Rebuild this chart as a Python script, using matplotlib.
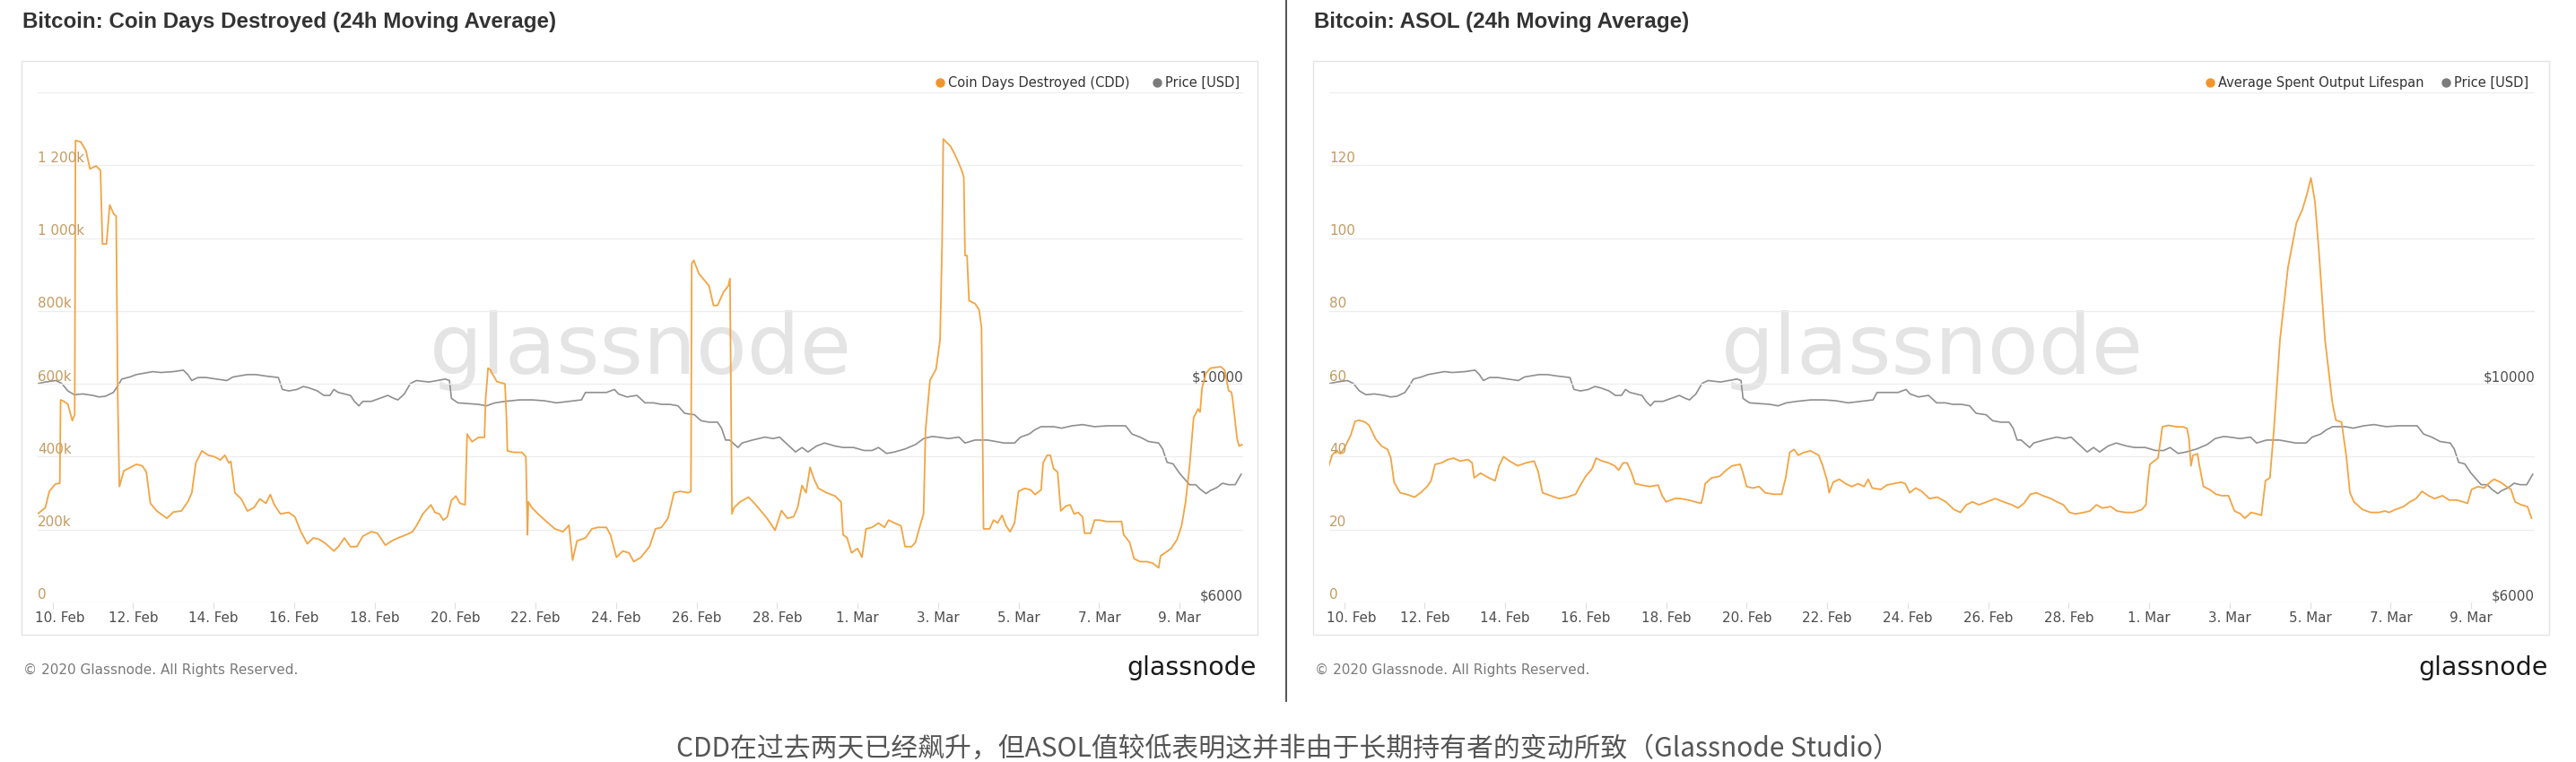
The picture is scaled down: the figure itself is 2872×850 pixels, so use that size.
import matplotlib
matplotlib.use('Agg')
import matplotlib.pyplot as plt
from matplotlib.patches import Rectangle
from matplotlib.lines import Line2D
import numpy as np
import pandas as pd

# ---------------- data ----------------
BASE = pd.Timestamp('2020-02-10')

cdd_days = [-0.36, -0.18, -0.08, 0.07, 0.18, 0.20, 0.28, 0.38, 0.49, 0.55, 0.57, 0.70, 0.83, 0.93, 1.08, 1.19,
            1.24, 1.34, 1.42, 1.52, 1.58, 1.62, 1.66, 1.77, 2.08, 2.23, 2.33, 2.43, 2.59, 2.84, 3.0, 3.2,
            3.36, 3.46, 3.56, 3.71, 3.87, 4.02, 4.17, 4.28, 4.38, 4.43, 4.53, 4.69, 4.84, 5.0, 5.15, 5.30,
            5.41, 5.51, 5.66, 5.87, 6.02, 6.17, 6.33, 6.48, 6.63, 6.79, 6.99, 7.10, 7.25, 7.40, 7.56, 7.71,
            7.92, 8.07, 8.27, 8.43, 8.58, 8.79, 8.94, 9.04, 9.20, 9.40, 9.50, 9.61, 9.71, 9.81, 9.91, 10.02,
            10.12, 10.25, 10.30, 10.42, 10.58, 10.73, 10.76, 10.82, 10.88, 10.93, 11.04, 11.24, 11.28, 11.30,
            11.45, 11.66, 11.76, 11.80, 11.82, 11.91, 12.06, 12.27, 12.48, 12.68, 12.83, 12.92, 13.03, 13.14,
            13.24, 13.40, 13.55, 13.76, 13.86, 14.01, 14.17, 14.32, 14.44, 14.62, 14.83, 14.98, 15.13, 15.29,
            15.44, 15.59, 15.80, 15.86, 15.88, 15.93, 16.06, 16.16, 16.31, 16.42, 16.52, 16.67, 16.79, 16.83,
            16.88, 16.93, 17.08, 17.29, 17.44, 17.59, 17.75, 17.95, 18.11, 18.26, 18.41, 18.51, 18.62, 18.72,
            18.82, 18.92, 19.03, 19.23, 19.44, 19.59, 19.64, 19.74, 19.85, 20.0, 20.11, 20.21, 20.36, 20.52,
            20.67, 20.77, 20.92, 21.08, 21.18, 21.34, 21.44, 21.54, 21.64, 21.69, 21.80, 21.95, 22.05, 22.10,
            22.13, 22.20, 22.31, 22.41, 22.51, 22.60, 22.64, 22.67, 22.72, 22.77, 22.92, 23.02, 23.08, 23.13,
            23.28, 23.38, 23.48, 23.59, 23.69, 23.79, 23.90, 24.00, 24.15, 24.30, 24.41, 24.56, 24.61, 24.71,
            24.79, 24.87, 24.97, 25.05, 25.17, 25.28, 25.38, 25.48, 25.59, 25.64, 25.79, 25.89, 26.0, 26.20,
            26.35, 26.56, 26.61, 26.76, 26.87, 27.02, 27.18, 27.33, 27.48, 27.53, 27.64, 27.79, 27.94, 28.05,
            28.15, 28.25, 28.35, 28.46, 28.51, 28.56, 28.66, 28.77, 29.02, 29.12, 29.22, 29.29, 29.32, 29.43,
            29.48, 29.55]
cdd_vals_k = [244, 260, 305, 325, 327, 556, 552, 544, 499, 515, 1268, 1264, 1240, 1190, 1198, 1186,
              984, 984, 1091, 1066, 1060, 560, 318, 361, 379, 375, 358, 272, 251, 231, 248, 251,
              276, 301, 383, 416, 404, 400, 391, 404, 383, 387, 301, 284, 251, 260, 284, 272,
              296, 268, 243, 247, 235, 194, 161, 177, 173, 161, 141, 153, 177, 153, 153, 182,
              194, 190, 157, 169, 177, 186, 194, 210, 243, 268, 247, 243, 226, 235, 280, 292,
              272, 268, 462, 441, 453, 453, 560, 643, 638, 627, 606, 600, 500, 416,
              412, 412, 400, 186, 276, 260, 243, 222, 202, 194, 212, 116, 169, 173,
              177, 202, 206, 206, 186, 124, 141, 136, 112, 124, 153, 202, 206, 231,
              301, 305, 301, 305, 930, 939, 902, 889, 869, 815, 815, 852, 869, 889,
              243, 260, 276, 289, 272, 252, 231, 198, 252, 231, 235, 260, 321, 301,
              371, 338, 313, 301, 292, 276, 186, 177, 136, 148, 124, 202, 206, 218,
              206, 226, 218, 210, 153, 153, 165, 206, 243, 474, 610, 640, 721, 985,
              1272, 1264, 1252, 1231, 1207, 1182, 1166, 952, 952, 828, 820, 803, 754, 202,
              202, 226, 218, 239, 210, 194, 218, 305, 313, 309, 296, 309, 383, 404,
              404, 367, 358, 251, 264, 268, 243, 247, 235, 190, 190, 226, 226, 222,
              222, 222, 186, 165, 120, 112, 112, 108, 95, 128, 136, 148, 173, 210,
              276, 375, 507, 531, 523, 589, 630, 643, 647, 638, 581, 577, 556, 449,
              429, 433]

asol_days = [-0.38, -0.30, -0.20, -0.09, 0.01, 0.16, 0.27, 0.37, 0.52, 0.62, 0.78, 0.93, 1.08, 1.16, 1.24, 1.39,
             1.54, 1.75, 1.90, 2.06, 2.16, 2.26, 2.42, 2.57, 2.72, 2.88, 3.08, 3.18, 3.23, 3.39, 3.59, 3.75,
             3.85, 3.96, 4.11, 4.31, 4.52, 4.72, 4.82, 4.93, 5.13, 5.34, 5.54, 5.75, 5.85, 6.0, 6.16, 6.26,
             6.41, 6.57, 6.72, 6.82, 6.93, 7.03, 7.13, 7.23, 7.39, 7.59, 7.80, 7.90, 8.0, 8.21, 8.36, 8.56,
             8.72, 8.87, 8.92, 8.97, 9.13, 9.33, 9.49, 9.64, 9.84, 9.90, 10.0, 10.15, 10.31, 10.46, 10.66, 10.87,
             10.97, 11.07, 11.18, 11.28, 11.43, 11.59, 11.79, 11.89, 12.0, 12.05, 12.15, 12.30, 12.46, 12.61, 12.77, 12.92,
             13.02, 13.12, 13.33, 13.48, 13.64, 13.84, 13.94, 14.05, 14.20, 14.35, 14.54, 14.74, 14.95, 15.15, 15.31, 15.46,
             15.61, 15.77, 15.97, 16.18, 16.38, 16.59, 16.74, 16.89, 17.05, 17.20, 17.36, 17.56, 17.71, 17.87, 18.02, 18.17,
             18.38, 18.53, 18.69, 18.84, 19.05, 19.20, 19.41, 19.61, 19.82, 19.92, 19.97, 20.02, 20.12, 20.22, 20.33, 20.48,
             20.69, 20.84, 20.94, 20.99, 21.04, 21.09, 21.20, 21.25, 21.35, 21.50, 21.66, 21.81, 21.97, 22.12, 22.27, 22.38,
             22.53, 22.68, 22.79, 22.89, 23.0, 23.10, 23.25, 23.45, 23.66, 23.81, 23.92, 24.02, 24.12, 24.22, 24.37, 24.55,
             24.64, 24.78, 24.90, 24.99, 25.09, 25.30, 25.50, 25.71, 25.86, 25.96, 26.12, 26.32, 26.48, 26.63, 26.78, 26.94,
             27.09, 27.29, 27.45, 27.65, 27.91, 28.01, 28.17, 28.32, 28.47, 28.57, 28.73, 28.88, 28.99, 29.09, 29.24, 29.40,
             29.50]
asol_vals = [37.5, 40.4, 41.6, 40.8, 42.5, 45.8, 49.7, 50.0, 49.5, 48.6, 44.9, 42.9, 42.0, 39.6, 33.0, 30.1,
             29.7, 28.9, 30.1, 31.8, 33.4, 37.9, 38.3, 39.2, 39.6, 38.8, 39.2, 38.3, 34.2, 35.5, 34.2, 33.4,
             37.5, 40.0, 38.8, 37.5, 38.3, 38.8, 35.9, 30.1, 29.3, 28.5, 28.9, 29.7, 31.8, 34.6, 36.7, 39.6,
             38.8, 38.3, 37.5, 36.3, 38.3, 38.3, 35.9, 32.6, 32.2, 31.8, 32.2, 29.3, 27.6, 28.5, 28.5, 28.1,
             27.6, 27.2, 29.3, 32.6, 34.2, 34.6, 36.3, 37.5, 37.9, 35.9, 31.8, 31.4, 31.8, 30.1, 29.7, 29.7,
             34.2, 41.2, 42.0, 40.4, 41.2, 41.6, 40.4, 37.5, 33.4, 30.1, 33.0, 33.8, 32.6, 31.8, 32.6, 31.8,
             33.8, 31.4, 31.0, 32.2, 32.6, 33.0, 32.6, 30.1, 31.4, 30.5, 28.5, 28.9, 27.6, 25.5, 24.7, 26.8,
             27.6, 26.8, 27.6, 28.5, 27.6, 26.8, 25.9, 27.2, 29.7, 30.1, 29.3, 28.5, 27.6, 26.8, 24.7, 24.3,
             24.7, 25.1, 26.8, 25.9, 26.3, 25.1, 24.7, 24.7, 25.5, 26.8, 33.4, 37.9, 38.8, 39.6, 48.2, 48.6,
             48.2, 48.2, 47.8, 44.9, 37.5, 40.4, 40.8, 37.5, 31.8, 31.0, 29.7, 29.3, 29.3, 25.1, 24.3, 23.1,
             24.7, 24.3, 23.9, 33.4, 34.2, 47.4, 72.0, 92.0, 104.2, 107.9, 112.0, 116.5, 110.0, 96.0, 72.0, 55.0,
             50.0, 49.5, 40.0, 30.1, 27.6, 25.5, 24.7, 24.7, 25.1, 24.7, 25.5, 26.3, 27.6, 28.5, 30.5, 29.3,
             28.5, 29.3, 28.1, 28.1, 27.2, 31.0, 31.8, 31.4, 33.0, 33.8, 33.0, 31.8, 31.0, 27.6, 26.8, 26.3,
             23.1]

price_days = [-0.36, -0.18, 0.08, 0.23, 0.38, 0.54, 0.75, 1.0, 1.15, 1.31, 1.51, 1.61, 1.72, 1.92, 2.08, 2.28,
              2.49, 2.69, 3.0, 3.25, 3.36, 3.46, 3.61, 3.82, 4.07, 4.33, 4.48, 4.84, 5.05, 5.30, 5.61, 5.71,
              5.87, 6.07, 6.23, 6.38, 6.58, 6.74, 6.89, 6.99, 7.10, 7.25, 7.40, 7.50, 7.61, 7.71, 7.92, 8.12,
              8.33, 8.48, 8.58, 8.74, 8.89, 9.04, 9.35, 9.56, 9.76, 9.86, 9.91, 10.07, 10.37, 10.58, 10.78, 10.99,
              11.24, 11.60, 11.91, 12.22, 12.52, 12.83, 13.14, 13.24, 13.45, 13.76, 13.96, 14.06, 14.27, 14.52, 14.72, 14.93,
              15.13, 15.34, 15.54, 15.70, 15.95, 16.11, 16.31, 16.52, 16.62, 16.72, 16.82, 17.03, 17.13, 17.39, 17.70, 17.90,
              18.06, 18.26, 18.46, 18.62, 18.77, 18.98, 19.18, 19.44, 19.64, 19.90, 20.16, 20.36, 20.52, 20.72, 20.92, 21.18,
              21.44, 21.64, 21.85, 22.00, 22.26, 22.52, 22.67, 22.92, 23.23, 23.44, 23.64, 23.90, 24.05, 24.26, 24.41, 24.56,
              24.87, 25.07, 25.33, 25.59, 25.89, 26.20, 26.51, 26.66, 26.82, 27.02, 27.23, 27.48, 27.58, 27.69, 27.84, 27.99,
              28.15, 28.25, 28.40, 28.51, 28.66, 28.76, 28.92, 29.07, 29.22, 29.38, 29.53]
price_usd = [10006, 10033, 10060, 10006, 9870, 9800, 9815, 9788, 9760, 9772, 9842, 9950, 10087, 10125, 10169, 10196,
             10223, 10207, 10223, 10250, 10169, 10060, 10115, 10115, 10087, 10060, 10125, 10169, 10169, 10142, 10115, 9897,
             9870, 9897, 9951, 9924, 9870, 9788, 9788, 9897, 9842, 9815, 9788, 9679, 9597, 9679, 9679, 9733,
             9788, 9733, 9706, 9815, 10006, 10060, 10033, 10060, 10087, 10060, 9733, 9652, 9635, 9624, 9597, 9652,
             9679, 9706, 9706, 9690, 9652, 9679, 9706, 9842, 9842, 9842, 9897, 9815, 9760, 9788, 9652, 9652,
             9624, 9624, 9597, 9461, 9434, 9325, 9298, 9298, 9189, 8971, 8971, 8835, 8917, 8971, 9025, 8998,
             9025, 8889, 8753, 8835, 8753, 8862, 8917, 8862, 8835, 8835, 8780, 8780, 8835, 8726, 8753, 8808,
             8889, 8998, 9036, 9025, 8998, 9025, 8917, 8971, 8971, 8944, 8917, 8917, 9025, 9080, 9161, 9216,
             9216, 9189, 9232, 9254, 9216, 9232, 9232, 9232, 9080, 9025, 8944, 8917, 8808, 8563, 8535, 8372,
             8236, 8154, 8154, 8073, 7991, 8045, 8100, 8181, 8154, 8154, 8345]

x_tick_days = [0, 2, 4, 6, 8, 10, 12, 14, 16, 18, 20, 22, 24, 26, 28]
x_tick_labels = ['10. Feb', '12. Feb', '14. Feb', '16. Feb', '18. Feb', '20. Feb', '22. Feb', '24. Feb',
                 '26. Feb', '28. Feb', '1. Mar', '3. Mar', '5. Mar', '7. Mar', '9. Mar']

cdd_ticks = [0, 200, 400, 600, 800, 1000, 1200, 1400]
cdd_tick_labels = ['0', '200k', '400k', '600k', '800k', '1 000k', '1 200k', '']
asol_ticks = [0, 20, 40, 60, 80, 100, 120, 140]
asol_tick_labels = ['0', '20', '40', '60', '80', '100', '120', '']
price_ticks = [6000, 10000]
price_tick_labels = ['$6000', '$10000']

titles = ['Bitcoin: Coin Days Destroyed (24h Moving Average)', 'Bitcoin: ASOL (24h Moving Average)']
legend_names = [['Coin Days Destroyed (CDD)', 'Price [USD]'], ['Average Spent Output Lifespan', 'Price [USD]']]
caption = 'CDD在过去两天已经飙升，但ASOL值较低表明这并非由于长期持有者的变动所致（Glassnode Studio）'

# ---------------- styling ----------------
W, H = 2872, 850
ORANGE = '#f3a443'
ORANGE_DOT = '#f0952d'
GRAY = '#8f8f8f'
AXLAB = '#c29b62'
TXT = '#4d4d4d'
TICK_FS = 10.9


def dates(days):
    return BASE + pd.to_timedelta(np.asarray(days, dtype=float), unit='D')


def fx(x):
    return x / W


def fy(y):
    return 1 - y / H


fig = plt.figure(figsize=(W / 100, H / 100), dpi=100)
fig.patch.set_facecolor('white')


def panel(xoff, title, s_days, s_vals, ticks, tick_labels, legend, leg_pos):
    # card
    fig.add_artist(Rectangle((fx(24 + xoff), fy(708)), (1378) / W, (708 - 68) / H,
                             transform=fig.transFigure, facecolor='white',
                             edgecolor='#e4e4e4', lw=1.0, zorder=0))
    fig.text(fx(25 + xoff), fy(24), title, fontsize=17.4, fontweight='bold',
             family='Liberation Sans', color='#333333', va='center', ha='left')

    ax = fig.add_axes([fx(42 + xoff), fy(672), (1386 - 42) / W, (672 - 103) / H])
    ax2 = ax.twinx()
    for a in (ax, ax2):
        for s in a.spines.values():
            s.set_visible(False)
        a.tick_params(left=False, right=False, labelleft=False, labelright=False)
    ax.set_zorder(ax2.get_zorder() + 1)
    ax.patch.set_visible(False)

    ax.set_ylim(ticks[0], ticks[-1])
    ax.set_yticks(ticks)
    ax.yaxis.grid(True, color='#ededed', lw=0.9)
    ax.set_axisbelow(True)
    ptop = 6000 + 4000 * (ticks[-1] - ticks[0]) / (ticks[3] - ticks[0])
    ax2.set_ylim(6000, ptop)

    xl = dates([-0.37, 29.58])
    ax.set_xlim(xl[0], xl[1])
    ax2.set_xlim(xl[0], xl[1])
    ax.set_xticks(dates(x_tick_days))
    ax.tick_params(axis='x', length=5, width=0.8, color='#e0e0e0', labelbottom=False)
    ax2.tick_params(axis='x', bottom=False, labelbottom=False)

    # watermark
    ax2.text(0.5, 0.448, 'glassnode', transform=ax2.transAxes, ha='center', va='baseline',
             fontsize=67, family='DejaVu Sans', color='#e4e4e4', zorder=0)

    ax2.plot(dates(price_days), price_usd, color=GRAY, lw=1.2, zorder=2)
    ax.plot(dates(s_days), s_vals, color=ORANGE, lw=1.3, zorder=3)

    # y labels
    for v, lab in zip(ticks, tick_labels):
        if lab:
            ax.annotate(lab, xy=(0, v), xycoords=('axes fraction', 'data'), xytext=(0, 8),
                        textcoords='offset pixels', ha='left', va='center', fontsize=TICK_FS,
                        color=AXLAB, annotation_clip=False)
    for v, lab in zip(price_ticks, price_tick_labels):
        ax2.annotate(lab, xy=(1, v), xycoords=('axes fraction', 'data'), xytext=(0, 7),
                     textcoords='offset pixels', ha='right', va='center', fontsize=TICK_FS,
                     color=TXT, annotation_clip=False)
    # x labels
    for i, (d, lab) in enumerate(zip(dates(x_tick_days), x_tick_labels)):
        dx = 8.5 if i == 0 else 0
        ax.annotate(lab, xy=(d, 0), xycoords=('data', 'axes fraction'), xytext=(dx, -18),
                    textcoords='offset pixels', ha='center', va='center', fontsize=TICK_FS,
                    color=TXT, annotation_clip=False)

    # legend
    (d1, t1), (d2, t2) = leg_pos
    for dxp, tx, name, col in ((d1, t1, legend[0], ORANGE_DOT), (d2, t2, legend[1], '#7b7b7b')):
        fig.add_artist(Line2D([fx(dxp + xoff)], [fy(92)], marker='o', markersize=6.5,
                              color=col, lw=0, transform=fig.transFigure))
        fig.text(fx(tx + xoff), fy(92), name, fontsize=10.5, color='#333333', va='center', ha='left')

    # footer
    fig.text(fx(26 + xoff), fy(747), '\u00a9 2020 Glassnode. All Rights Reserved.', fontsize=11,
             color='#7a7a7a', va='center', ha='left')
    fig.text(fx(1401 + xoff), fy(753), 'glassnode', fontsize=20.5, family='DejaVu Sans',
             color='#1a1a1a', va='baseline', ha='right')
    return ax


panel(0, titles[0], cdd_days, cdd_vals_k, cdd_ticks, cdd_tick_labels, legend_names[0],
      ((1048, 1057), (1290, 1299)))
panel(1440, titles[1], asol_days, asol_vals, asol_ticks, asol_tick_labels, legend_names[1],
      ((1024, 1033), (1287, 1296)))

# divider
fig.add_artist(Line2D([fx(1434), fx(1434)], [1, fy(782)], color='#444444', lw=1.3,
                      transform=fig.transFigure))

fig.text(fx(1436), fy(835), caption, fontsize=21.5, color='#555555', ha='center', va='center',
         family=['Noto Sans CJK SC', 'DejaVu Sans'])

fig.savefig('out.png', dpi=100, facecolor='white')
